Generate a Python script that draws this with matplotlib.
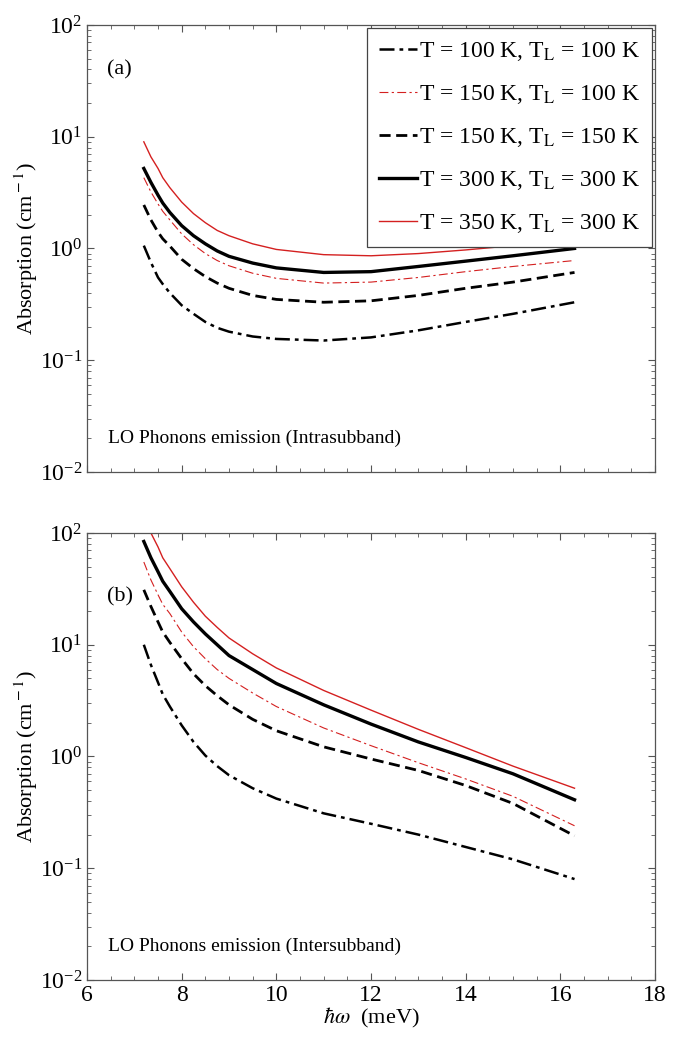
import matplotlib
matplotlib.use("Agg")
import matplotlib.pyplot as plt
from matplotlib.ticker import LogLocator, MultipleLocator, NullFormatter

plt.rcParams["font.family"] = ["Liberation Serif", "DejaVu Serif"]
plt.rcParams["mathtext.fontset"] = "stix"

# photon energy (meV)
energy = [7.2, 7.35, 7.5, 7.6, 7.75, 8.0, 8.25, 8.5, 8.75, 9.0, 9.5, 10.0,
          11.0, 12.0, 13.0, 14.0, 15.0, 16.3]

# (a) intrasubband, absorption (cm^-1)
a_100_100 = [1.06, 0.75, 0.55, 0.48, 0.40, 0.31, 0.26, 0.22, 0.195, 0.18, 0.163, 0.155,
             0.15, 0.16, 0.185, 0.22, 0.26, 0.33]
a_150_100 = [4.3, 3.2, 2.5, 2.15, 1.8, 1.35, 1.08, 0.90, 0.78, 0.70, 0.60, 0.54,
             0.49, 0.50, 0.55, 0.62, 0.69, 0.78]
a_150_150 = [2.45, 1.8, 1.4, 1.22, 1.05, 0.80, 0.66, 0.56, 0.49, 0.44, 0.38, 0.35,
             0.33, 0.34, 0.38, 0.44, 0.50, 0.61]
a_300_300 = [5.2, 3.9, 3.0, 2.55, 2.1, 1.6, 1.3, 1.1, 0.95, 0.85, 0.74, 0.67,
             0.61, 0.62, 0.69, 0.77, 0.86, 1.0]
a_350_300 = [9.0, 6.6, 5.2, 4.3, 3.5, 2.6, 2.05, 1.7, 1.45, 1.3, 1.1, 0.98,
             0.88, 0.86, 0.90, 0.97, 1.06, 1.2]

# (b) intersubband, absorption (cm^-1)
b_100_100 = [10.0, 6.6, 4.6, 3.6, 2.8, 1.9, 1.35, 1.02, 0.82, 0.68, 0.52, 0.42,
             0.31, 0.25, 0.20, 0.155, 0.12, 0.08]
b_150_100 = [55, 38, 28, 23, 19, 13, 9.6, 7.5, 6.0, 5.0, 3.7, 2.8,
             1.8, 1.25, 0.88, 0.63, 0.44, 0.24]
b_150_150 = [31, 22, 16, 13, 10.5, 7.5, 5.5, 4.3, 3.5, 2.9, 2.15, 1.7,
             1.22, 0.95, 0.75, 0.55, 0.38, 0.195]
b_300_300 = [84, 60, 45, 37, 30, 21, 16, 12.5, 10, 8.0, 6.0, 4.5,
             2.9, 1.95, 1.35, 0.98, 0.70, 0.41]
b_350_300 = [135, 100, 75, 60, 48, 33, 24, 18, 14.3, 11.5, 8.3, 6.2,
             3.9, 2.6, 1.75, 1.2, 0.82, 0.52]

labels = [
    "T = 100 K, T$_{\\rm L}$ = 100 K",
    "T = 150 K, T$_{\\rm L}$ = 100 K",
    "T = 150 K, T$_{\\rm L}$ = 150 K",
    "T = 300 K, T$_{\\rm L}$ = 300 K",
    "T = 350 K, T$_{\\rm L}$ = 300 K",
]
styles = [
    dict(color="black", linestyle=(0, (6, 2, 1.5, 2)), linewidth=1.8),
    dict(color="#d42020", linestyle=(0, (8, 3, 2, 3)), linewidth=0.8),
    dict(color="black", linestyle=(0, (4, 2)), linewidth=2.0),
    dict(color="black", linestyle="-", linewidth=2.4),
    dict(color="#d42020", linestyle="-", linewidth=1.0),
]

fig = plt.figure(figsize=(6.82, 10.4), dpi=100)
ax_a = fig.add_axes([0.1276, 0.5462, 0.8328, 0.4298])
ax_b = fig.add_axes([0.1276, 0.0577, 0.8328, 0.4298])

panels = [
    (ax_a, [a_100_100, a_150_100, a_150_150, a_300_300, a_350_300], "(a)", 0.90,
     "LO Phonons emission (Intrasubband)"),
    (ax_b, [b_100_100, b_150_100, b_150_150, b_300_300, b_350_300], "(b)", 0.857,
     "LO Phonons emission (Intersubband)"),
]

for ax, series, tag, tag_y, note in panels:
    for values, label, st in zip(series, labels, styles):
        ax.plot(energy, values, label=label, **st)
    ax.set_yscale("log")
    ax.set_xlim(6, 18)
    ax.set_ylim(1e-2, 1e2)
    ax.xaxis.set_major_locator(MultipleLocator(2))
    ax.xaxis.set_minor_locator(MultipleLocator(0.5))
    ax.yaxis.set_major_locator(LogLocator(base=10, numticks=10))
    ax.yaxis.set_minor_locator(LogLocator(base=10, subs=range(2, 10), numticks=10))
    ax.yaxis.set_minor_formatter(NullFormatter())
    ax.tick_params(which="both", direction="in", top=True, right=True, labelsize=17,
                   color="#555555")
    ax.tick_params(which="major", length=5)
    ax.tick_params(which="minor", length=3)
    for sp in ax.spines.values():
        sp.set_color("#555555")
        sp.set_linewidth(0.9)
    ax.set_ylabel("Absorption (cm$^{\\rm -1}$)", fontsize=16, labelpad=0)
    ax.text(0.035, tag_y, tag, transform=ax.transAxes, fontsize=16, va="center")
    ax.text(0.037, 0.075, note, transform=ax.transAxes, fontsize=14, va="center")

ax_a.tick_params(axis="x", labelbottom=False)
ax_b.set_xlabel("$\\hbar\\omega$  (meV)", fontsize=16, labelpad=0)

leg = ax_a.legend(loc="upper right", bbox_to_anchor=(0.995, 0.993), fontsize=17,
                  handlelength=1.6, handletextpad=0.1, labelspacing=0.85,
                  borderpad=0.5, borderaxespad=0.0, framealpha=1, fancybox=False,
                  edgecolor="#444444")
leg.get_frame().set_linewidth(0.9)

fig.savefig("out.png", dpi=100)
